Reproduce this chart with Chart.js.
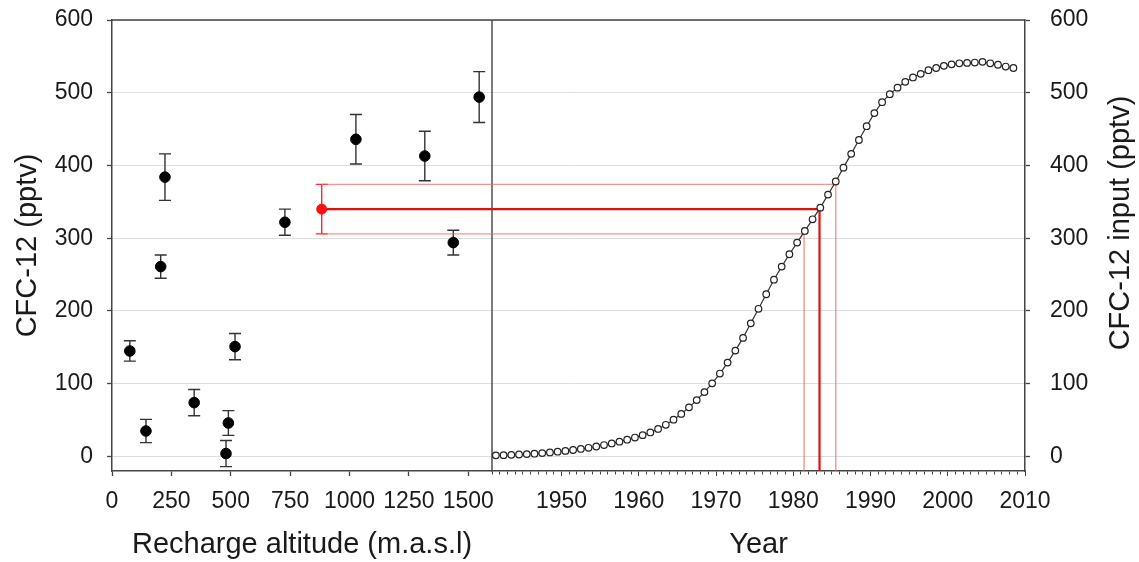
<!DOCTYPE html>
<html>
<head>
<meta charset="utf-8">
<script src="https://cdn.jsdelivr.net/npm/chart.js@4.4.1/dist/chart.umd.min.js"></script>
<style>
  html, body { margin: 0; padding: 0; background: #fff; }
</style>
</head>
<body>
<canvas id="myChart" width="1139" height="562"></canvas>
<script>
// samples: recharge altitude vs measured CFC-12
const altitude  = [75, 143, 205, 223, 346, 480, 490, 518, 728, 1027, 1317, 1437, 1546];
const cfcSample = [145, 35, 261, 384, 74, 4, 46, 151, 322, 436, 413, 294, 494];
const cfcError  = [14, 16, 16, 32, 18, 18, 17, 18, 18, 34, 34, 17, 35];

// mean sample (red)
const meanAltitude = [883];
const meanCfc = [340];
const meanError = [34];

// atmospheric input curve
const years = [1941.5, 1942.5, 1943.5, 1944.5, 1945.5, 1946.5, 1947.5, 1948.5, 1949.5,
  1950.5, 1951.5, 1952.5, 1953.5, 1954.5, 1955.5, 1956.5, 1957.5, 1958.5, 1959.5,
  1960.5, 1961.5, 1962.5, 1963.5, 1964.5, 1965.5, 1966.5, 1967.5, 1968.5, 1969.5,
  1970.5, 1971.5, 1972.5, 1973.5, 1974.5, 1975.5, 1976.5, 1977.5, 1978.5, 1979.5,
  1980.5, 1981.5, 1982.5, 1983.5, 1984.5, 1985.5, 1986.5, 1987.5, 1988.5, 1989.5,
  1990.5, 1991.5, 1992.5, 1993.5, 1994.5, 1995.5, 1996.5, 1997.5, 1998.5, 1999.5,
  2000.5, 2001.5, 2002.5, 2003.5, 2004.5, 2005.5, 2006.5, 2007.5, 2008.5];
const cfcInput = [1.5, 1.8, 2.2, 2.7, 3.2, 3.8, 4.6, 5.5, 6.5,
  7.6, 8.9, 10.3, 11.9, 13.7, 15.7, 17.9, 20.3, 23.0, 26.0,
  29.3, 33.0, 37.8, 43.5, 50.5, 58.5, 67.5, 77.5, 88.5, 100.5,
  114, 129, 145.5, 163, 183, 203, 223, 243, 261, 278,
  294, 310, 326, 342, 360, 378, 397, 416, 435, 454,
  472, 487, 498, 507, 515, 521, 526, 531, 534, 537,
  539, 540.5, 541, 541.5, 542.5, 540.5, 538.5, 536, 534];

// recharge year (lower, mean, upper)
const ageLevels = [306, 340, 374];
const ageYears = [1981.4, 1983.4, 1985.5];

// axis ranges
const altRange = [0, 1600];
const yearRange = [1941, 2010];
const cfcRange = [-20, 600];

const axisColor = '#454545';
const textColor = '#1a1a1a';
const fontFamily = '"Liberation Sans", Arial, sans-serif';
const tickFont = { family: fontFamily, size: 23 };
const titleFont = { family: fontFamily, size: 29 };
const thinRed = 'rgba(245, 90, 90, 0.65)';

function redLine(level, year, color, width) {
  return [{
    type: 'line', xAxisID: 'x', yAxisID: 'y',
    data: [{x: meanAltitude[0], y: level}, {x: altRange[1], y: level}],
    borderColor: color, borderWidth: width, pointRadius: 0, showLine: true
  }, {
    type: 'line', xAxisID: 'x2', yAxisID: 'y2',
    data: [{x: yearRange[0], y: level}, {x: year, y: level}, {x: year, y: cfcRange[0]}],
    borderColor: color, borderWidth: width, pointRadius: 0, showLine: true
  }];
}

// vertical axes: fixed width, no extra label padding on the chart area
function fixWidth(w) {
  return s => { s.width = w; s.paddingTop = 0; s.paddingBottom = 0; };
}

const extras = {
  id: 'extras',
  beforeDatasetsDraw(chart) {
    const {ctx, chartArea: a, scales} = chart;
    ctx.save();
    // frame top + separator
    ctx.strokeStyle = axisColor;
    ctx.lineWidth = 1.4;
    ctx.beginPath();
    ctx.moveTo(a.left, a.top);
    ctx.lineTo(a.right, a.top);
    ctx.moveTo(scales.x.right, a.top);
    ctx.lineTo(scales.x.right, a.bottom);
    ctx.stroke();
    // error bars
    function bars(xs, ys, es, color) {
      ctx.strokeStyle = color;
      ctx.lineWidth = 1.4;
      ctx.beginPath();
      for (let i = 0; i < xs.length; i++) {
        const px = scales.x.getPixelForValue(xs[i]);
        const top = scales.y.getPixelForValue(ys[i] + es[i]);
        const bot = scales.y.getPixelForValue(ys[i] - es[i]);
        ctx.moveTo(px, top); ctx.lineTo(px, bot);
        ctx.moveTo(px - 6, top); ctx.lineTo(px + 6, top);
        ctx.moveTo(px - 6, bot); ctx.lineTo(px + 6, bot);
      }
      ctx.stroke();
    }
    bars(altitude, cfcSample, cfcError, '#333');
    bars(meanAltitude, meanCfc, meanError, '#ff2a2a');
    ctx.restore();
  },
  afterDraw(chart) {
    const ctx = chart.ctx;
    ctx.save();
    ctx.translate(1121, 223);
    ctx.rotate(-Math.PI / 2);
    ctx.font = '29px ' + fontFamily;
    ctx.fillStyle = textColor;
    ctx.textAlign = 'center';
    ctx.textBaseline = 'middle';
    ctx.fillText('CFC-12 input (pptv)', 0, 0);
    ctx.restore();
  }
};

const ctx = document.getElementById('myChart').getContext('2d');
const myChart = new Chart(ctx, {
  type: 'scatter',
  data: {
    datasets: [{
      label: 'Samples',
      xAxisID: 'x', yAxisID: 'y',
      data: altitude.map((a, i) => ({x: a, y: cfcSample[i]})),
      backgroundColor: '#000',
      borderColor: '#000',
      pointRadius: 5.3
    }, {
      label: 'Mean',
      xAxisID: 'x', yAxisID: 'y',
      data: meanAltitude.map((a, i) => ({x: a, y: meanCfc[i]})),
      backgroundColor: '#ff1010',
      borderColor: '#ff1010',
      pointRadius: 5
    }, {
      label: 'CFC-12 input',
      type: 'line',
      xAxisID: 'x2', yAxisID: 'y2',
      data: years.map((yr, i) => ({x: yr, y: cfcInput[i]})),
      borderColor: '#333',
      borderWidth: 1.2,
      pointRadius: 3.3,
      pointBackgroundColor: '#fff',
      pointBorderColor: '#222',
      pointBorderWidth: 1.2,
      showLine: true
    },
    ...redLine(ageLevels[1], ageYears[1], '#e01010', 2.2),
    ...redLine(ageLevels[0], ageYears[0], thinRed, 1.4),
    ...redLine(ageLevels[2], ageYears[2], thinRed, 1.4)
    ]
  },
  options: {
    responsive: false,
    animation: false,
    layout: { padding: { top: 20, left: 0, right: 0, bottom: 0 } },
    plugins: { legend: { display: false }, tooltip: { enabled: false } },
    scales: {
      x: {
        type: 'linear', position: 'bottom', stack: 'bottom', stackWeight: 380,
        min: altRange[0], max: altRange[1],
        ticks: { stepSize: 250, includeBounds: false, autoSkip: false, maxRotation: 0,
          padding: 12, color: textColor, font: tickFont, callback: v => String(v) },
        grid: { drawOnChartArea: false, tickLength: 5, tickColor: axisColor, tickWidth: 1.3 },
        border: { color: axisColor, width: 1.5 },
        title: { display: true, text: 'Recharge altitude (m.a.s.l)', color: textColor, font: titleFont, padding: 0 },
        afterFit: s => { s.height = 91; }
      },
      x2: {
        type: 'linear', position: 'bottom', stack: 'bottom', stackWeight: 533,
        min: yearRange[0], max: yearRange[1],
        ticks: { stepSize: 1, includeBounds: false, autoSkip: false, maxRotation: 0,
          padding: 12, color: textColor, font: tickFont,
          callback: v => (v % 10 === 0 ? String(v) : '') },
        grid: { drawOnChartArea: false, tickLength: 5, tickColor: axisColor, tickWidth: 1,
          tickBorderDash: c => (c.tick && c.tick.value % 10 === 0 ? [] : [3, 20]) },
        border: { color: axisColor, width: 1.5 },
        title: { display: true, text: 'Year', color: textColor, font: titleFont, padding: 0 },
        afterFit: s => { s.height = 91; }
      },
      y: {
        type: 'linear', position: 'left',
        min: cfcRange[0], max: cfcRange[1],
        ticks: { stepSize: 100, includeBounds: false, padding: 14, color: textColor, font: tickFont,
          callback: v => String(v) },
        grid: { color: '#dedede', lineWidth: 1, tickLength: 5, tickColor: axisColor, tickWidth: 1.3 },
        border: { color: axisColor, width: 1.5 },
        title: { display: true, text: 'CFC-12 (pptv)', color: textColor, font: titleFont, padding: { top: 11, bottom: 0 } },
        afterFit: fixWidth(112)
      },
      y2: {
        type: 'linear', position: 'right',
        min: cfcRange[0], max: cfcRange[1],
        ticks: { stepSize: 100, includeBounds: false, padding: 20, color: textColor, font: tickFont,
          callback: v => String(v) },
        grid: { drawOnChartArea: false, tickLength: 5, tickColor: axisColor, tickWidth: 1.3 },
        border: { color: axisColor, width: 1.5 },
        afterFit: fixWidth(114)
      }
    }
  },
  plugins: [extras]
});
</script>
</body>
</html>
